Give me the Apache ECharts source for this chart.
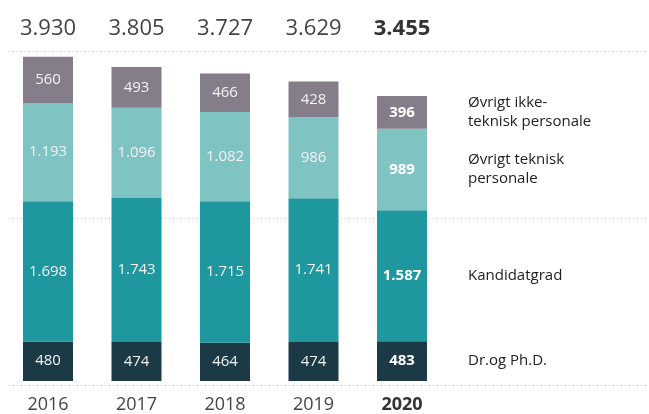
<!DOCTYPE html>
<html>
<head>
<meta charset="utf-8">
<script src="https://cdn.jsdelivr.net/npm/echarts@6/dist/echarts.min.js"></script>
<style>
  html, body { margin: 0; padding: 0; background: #fff; }
  #chart { width: 649px; height: 414px; }
</style>
</head>
<body>
<div id="chart"></div>
<script>
var years = ["2016", "2017", "2018", "2019", "2020"];
var totals = [3930, 3805, 3727, 3629, 3455];
var drPhd = [480, 474, 464, 474, 483];
var kandidat = [1698, 1743, 1715, 1741, 1587];
var teknisk = [1193, 1096, 1082, 986, 989];
var ikkeTeknisk = [560, 493, 466, 428, 396];
var seriesNames = ["Dr.og Ph.D.", "Kandidatgrad", "Øvrigt teknisk\npersonale", "Øvrigt ikke-\nteknisk personale"];
var colors = ["#1b3a46", "#1e979f", "#7fc4c2", "#857e8a"];

var fmt = function (v) {
  return String(v).replace(/\B(?=(\d{3})+(?!\d))/g, ".");
};
var last = years.length - 1;
var font = "Open Sans";

var chart = echarts.init(document.getElementById("chart"));
var values = [drPhd, kandidat, teknisk, ikkeTeknisk];
var series = [];

values.forEach(function (arr, k) {
  series.push({
    name: seriesNames[k],
    type: "bar",
    stack: "main",
    barWidth: 50,
    barGap: "-100%",
    itemStyle: { color: colors[k] },
    label: {
      show: true,
      position: "inside",
      color: "#f2f2f2",
      fontFamily: font,
      fontSize: 15,
      formatter: function (p) {
        return p.dataIndex === last ? "{b|" + fmt(p.value) + "}" : fmt(p.value);
      },
      rich: { b: { fontWeight: "bold", fontSize: 15, color: "#fff", fontFamily: font } }
    },
    data: arr
  });
});

// transparent overlay on the last bar, only to carry the side labels
values.forEach(function (arr, k) {
  series.push({
    name: seriesNames[k] + "_lbl",
    type: "bar",
    stack: "lbl",
    barWidth: 50,
    barGap: "-100%",
    silent: true,
    itemStyle: { color: "rgba(0,0,0,0)" },
    label: {
      show: true,
      position: "right",
      distance: 41,
      align: "left",
      color: "#222",
      fontFamily: font,
      fontSize: 15,
      lineHeight: 19,
      formatter: function () { return seriesNames[k]; }
    },
    data: arr.map(function (v, i) { return i === last ? v : "-"; })
  });
});

chart.setOption({
  animation: false,
  grid: [
    { left: 3.75, right: 202.75, top: 51, bottom: 29 },
    { left: 9, right: 0, top: 51, bottom: 29 }
  ],
  xAxis: [
    {
      type: "category",
      gridIndex: 0,
      data: years,
      axisLine: { show: false },
      axisTick: { show: false },
      axisLabel: {
        interval: 0,
        margin: 15,
        color: "#444",
        fontFamily: font,
        fontSize: 18,
        formatter: function (v, i) { return i === last ? "{b|" + v + "}" : v; },
        rich: { b: { fontWeight: "bold", fontSize: 18, color: "#333", fontFamily: font } }
      }
    },
    {
      type: "category",
      gridIndex: 0,
      position: "top",
      data: totals.map(fmt),
      axisLine: { show: false },
      axisTick: { show: false },
      axisLabel: {
        interval: 0,
        margin: 11,
        color: "#444",
        fontFamily: font,
        fontSize: 22,
        formatter: function (v, i) { return i === last ? "{b|" + v + "}" : v; },
        rich: { b: { fontWeight: "bold", fontSize: 22, color: "#333", fontFamily: font } }
      }
    },
    {
      type: "value",
      gridIndex: 1,
      show: false,
      min: 0,
      max: 1
    }
  ],
  yAxis: [
    {
      type: "value",
      gridIndex: 0,
      min: 0,
      max: 4000,
      interval: 2000,
      show: false
    },
    {
      type: "value",
      gridIndex: 1,
      min: 0,
      max: 4000,
      interval: 2000,
      z: 0,
      axisLine: { show: false },
      axisTick: { show: false },
      axisLabel: { show: false },
      splitLine: { show: true, lineStyle: { color: "#c8c8c8", type: [1, 3], width: 1 } }
    }
  ],
  series: series
});
</script>
</body>
</html>
